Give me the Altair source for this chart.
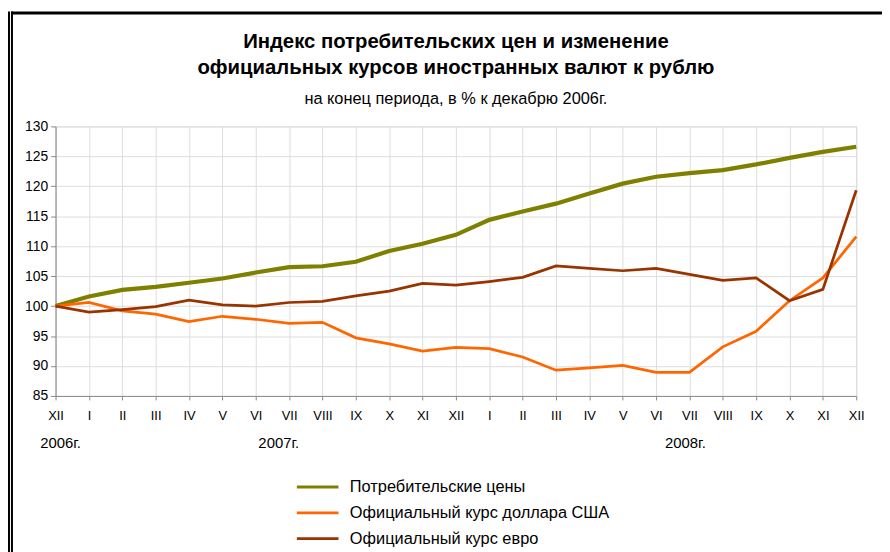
import json
import altair as alt
import pandas as pd

# ---- data ----
month_labels = ["XII", "I", "II", "III", "IV", "V", "VI", "VII", "VIII", "IX", "X", "XI", "XII",
                "I", "II", "III", "IV", "V", "VI", "VII", "VIII", "IX", "X", "XI", "XII"]
series_names = ["Потребительские цены", "Официальный курс доллара США", "Официальный курс евро"]
cpi = [100, 101.6, 102.7, 103.2, 103.9, 104.6, 105.6, 106.5, 106.65, 107.4, 109.2, 110.4, 111.9,
       114.4, 115.8, 117.1, 118.8, 120.45, 121.6, 122.2, 122.7, 123.65, 124.75, 125.75, 126.6]
usd = [100, 100.6, 99.2, 98.65, 97.4, 98.3, 97.8, 97.1, 97.3, 94.7, 93.7, 92.5, 93.1,
       92.9, 91.5, 89.3, 89.7, 90.1, 88.95, 88.95, 93.2, 95.8, 100.9, 104.7, 111.6]
eur = [100, 99.0, 99.4, 99.9, 101.0, 100.2, 100.0, 100.6, 100.8, 101.7, 102.5, 103.8, 103.5,
       104.1, 104.8, 106.7, 106.3, 105.9, 106.3, 105.3, 104.3, 104.7, 100.9, 102.8, 119.35]
year_labels = ["2006г.", "2007г.", "2008г."]
year_anchor = [0.15, 6.69, 18.88]   # month index under which each year caption is centred

title_line1 = "Индекс потребительских цен и изменение"
title_line2 = "официальных курсов иностранных валют к рублю"
subtitle = "на конец периода, в % к декабрю 2006г."

colors = ["#808000", "#FF6600", "#993300"]

rows = []
for name, vals in zip(series_names, [cpi, usd, eur]):
    for i, v in enumerate(vals):
        rows.append({"idx": i, "value": v, "series": name})
df = pd.DataFrame(rows)
years_df = pd.DataFrame({"idx": year_anchor, "year": year_labels})

FONT = "Liberation Sans"
W, H = 808, 272

label_expr = json.dumps(month_labels, ensure_ascii=False) + "[datum.value]"

x_axis = alt.Axis(values=list(range(25)), labelExpr=label_expr, title=None,
                  tickSize=4, labelPadding=10, labelFontSize=13,
                  grid=True, labelFlush=False, labelOverlap=False)
x_scale = alt.Scale(domain=[0, 24], nice=False, zero=False)
y_enc = alt.Y("value:Q",
              scale=alt.Scale(domain=[85, 130], nice=False, zero=False),
              axis=alt.Axis(values=list(range(85, 131, 5)), title=None, tickSize=5,
                            labelPadding=3, labelFontSize=14, grid=True))

cpi_sel = "datum.series === '" + series_names[0] + "'"

lines = alt.Chart(df).mark_line(clip=False).encode(
    x=alt.X("idx:Q", scale=x_scale, axis=x_axis),
    y=y_enc,
    color=alt.Color("series:N",
                    scale=alt.Scale(domain=series_names, range=colors),
                    legend=alt.Legend(title=None, orient="none", legendX=242, legendY=356,
                                      direction="vertical", symbolType="stroke",
                                      symbolSize=1764, clipHeight=16, rowPadding=9,
                                      symbolStrokeWidth=3, labelLimit=500,
                                      labelFontSize=16.5, labelOffset=10, labelFont=FONT,
                                      labelColor="#000000", padding=0)),
    strokeWidth=alt.condition(cpi_sel, alt.value(4.25), alt.value(2.75)),
    order=alt.Order("idx:Q"),
)

years = alt.Chart(years_df).mark_text(fontSize=15, font=FONT, color="#000000",
                                      align="center", baseline="middle").encode(
    x=alt.X("idx:Q", scale=x_scale, axis=x_axis),
    y=alt.value(H + 48),
    text="year:N",
)

one = alt.Data(values=[{}])
t1 = alt.Chart(one).mark_text(text=title_line1, fontSize=20.5, fontWeight="bold", font=FONT,
                              color="#000000", align="center", baseline="middle").encode(
    x=alt.value(W / 2), y=alt.value(-85))
t2 = alt.Chart(one).mark_text(text=title_line2, fontSize=20.5, fontWeight="bold", font=FONT,
                              color="#000000", align="center", baseline="middle").encode(
    x=alt.value(W / 2), y=alt.value(-59))
t3 = alt.Chart(one).mark_text(text=subtitle, fontSize=16.5, font=FONT,
                              color="#000000", align="center", baseline="middle").encode(
    x=alt.value(W / 2), y=alt.value(-28))

left_outer = alt.Chart(one).mark_rule(color="#000000", strokeWidth=2).encode(
    x=alt.value(-47), y=alt.value(-116), y2=alt.value(H + 200))
left_inner = alt.Chart(one).mark_rule(color="#000000", strokeWidth=2).encode(
    x=alt.value(-44), y=alt.value(-116), y2=alt.value(H + 200))
top_line = alt.Chart(one).mark_rule(color="#000000", strokeWidth=3).encode(
    x=alt.value(-45), x2=alt.value(W + 60), y=alt.value(-114.5))

chart = alt.layer(lines, years, t1, t2, t3, left_outer, left_inner, top_line).properties(
    width=W, height=H,
    autosize=alt.AutoSizeParams(type="none"),
    padding={"left": 48, "top": 117, "right": 26, "bottom": 155},
).configure_view(stroke=None).configure_axis(
    labelFont=FONT, labelColor="#000000", domainColor="#000000", tickColor="#000000",
    gridColor="#c0c0c0", gridWidth=1, domainWidth=1, tickWidth=1, labelOverlap=False,
).configure(background="#ffffff")

chart.save("out.html", embed_options={"renderer": "svg", "actions": False})
